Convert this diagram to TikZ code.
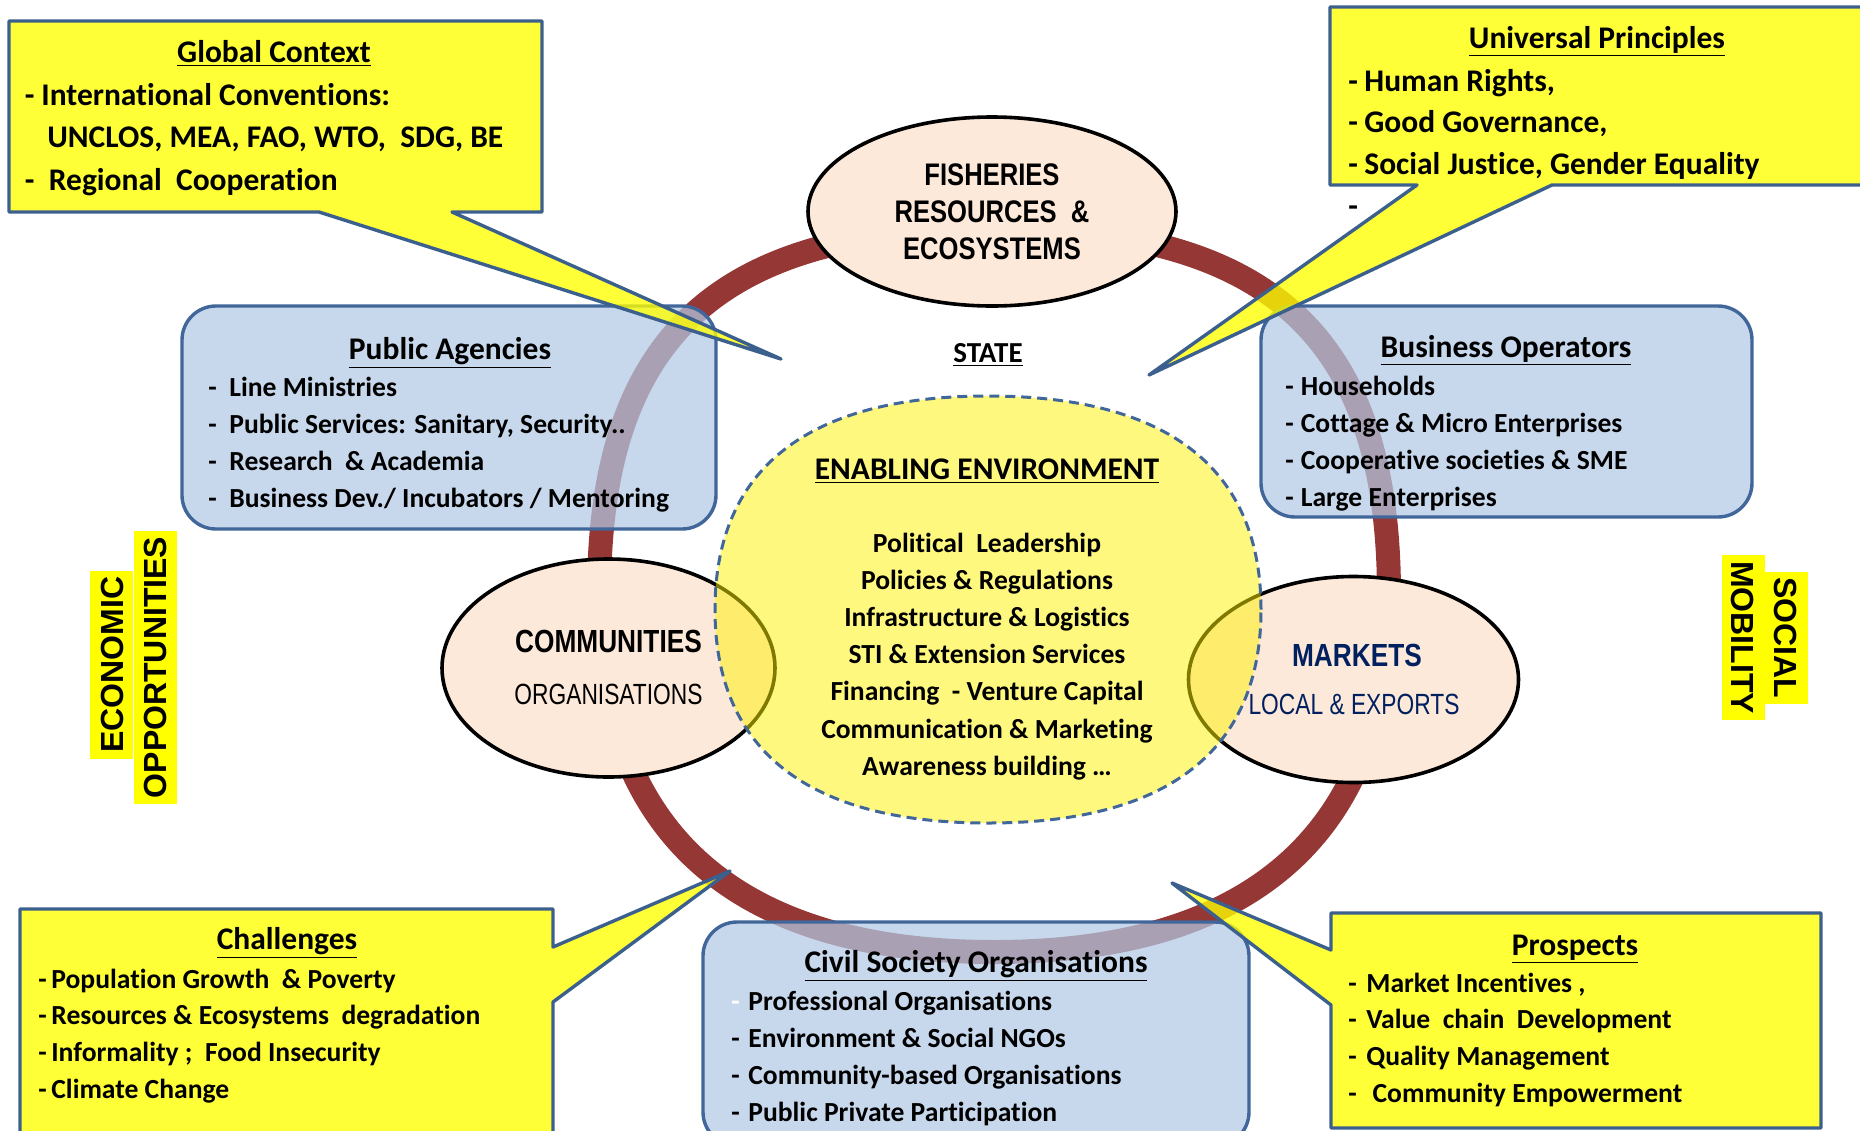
\documentclass[tikz,border=0pt]{standalone}
\usepackage{fontspec}
\setmainfont{Carlito}[Ligatures=NoCommon]
\newfontfamily\narrowbold[FakeStretch=0.82]{Liberation Sans}
\newfontfamily\narrowreg[FakeStretch=0.78]{Liberation Sans}
\newfontfamily\widesans{Liberation Sans}
\usetikzlibrary{shapes.geometric}

\definecolor{ringred}{RGB}{149,55,53}
\definecolor{calloutfill}{RGB}{255,255,0}
\definecolor{calloutline}{RGB}{60,96,142}
\definecolor{boxfill}{RGB}{178,201,229}
\definecolor{boxline}{RGB}{65,102,154}
\definecolor{peach}{RGB}{253,233,217}
\definecolor{navy}{RGB}{0,32,96}
\definecolor{hilite}{RGB}{255,255,0}

% dash followed by a fixed gap before the item text
\newcommand\dashto[1]{\makebox[#1][l]{-}}

\begin{document}
\begin{tikzpicture}[x=0.5pt, y=-0.5pt,
  callout/.style={fill=calloutfill, fill opacity=0.78, draw=calloutline,
    line width=1.7pt, line join=round},
  bluebox/.style={rectangle, rounded corners=17pt, draw=boxline, line width=1.7pt,
    fill=boxfill, fill opacity=0.72, inner sep=0pt},
  peachell/.style={ellipse, draw=black, line width=1.8pt, fill=peach, inner sep=0pt},
  enabling/.style={fill=yellow, fill opacity=0.5, draw=boxline, line width=1.5pt,
    dash pattern=on 5pt off 3pt},
  calltitle/.style={font=\bfseries\fontsize{15.75}{18}\selectfont, anchor=base, inner sep=0pt},
  bigitem/.style={font=\bfseries\fontsize{15.75}{18}\selectfont, anchor=base west, inner sep=0pt},
  listitem/.style={font=\bfseries\fontsize{13.8}{16}\selectfont, anchor=base west, inner sep=0pt},
  centreitem/.style={listitem, anchor=base},
  capsbold/.style={font=\narrowbold\bfseries\fontsize{15.6}{18}\selectfont, anchor=base, inner sep=0pt},
  capsreg/.style={font=\narrowreg\fontsize{14.6}{17}\selectfont, anchor=base, inner sep=0pt},
  sidelabel/.style={font=\widesans\bfseries\fontsize{16}{18}\selectfont, fill=hilite,
    inner xsep=3pt, inner ysep=0pt, text height=11.5pt, text depth=0pt, minimum height=21.5pt}
]
\useasboundingbox (0,0) rectangle (1860,1131);

% ---------- central ring ----------
\draw[ringred, line width=12pt]
  (1389,595) .. controls (1389,337) and (1270.5,228) .. (994,228)
  .. controls (717.5,228) and (599,337) .. (599,595)
  .. controls (599,830.6) and (733.3,952) .. (994,952)
  .. controls (1254.7,952) and (1389,830.6) .. (1389,595) -- cycle;

% ---------- stakeholder boxes ----------
\node[bluebox, minimum width=267pt, minimum height=111.5pt] (pubag) at (449,417.5) {};
\node[bluebox, minimum width=245.5pt, minimum height=105.5pt] (busop) at (1506.5,411.5) {};
\node[bluebox, minimum width=273pt, minimum height=112pt] (civil) at (976,1034) {};

% ---------- ellipses on the ring ----------
\node[peachell, minimum width=184pt, minimum height=94.5pt] (fish) at (992,211.5) {};
\node[peachell, minimum width=166.5pt, minimum height=109pt] (comm) at (608.5,668) {};
\node[peachell, minimum width=165pt, minimum height=103pt] (mkt) at (1353.5,679.5) {};

% ---------- enabling environment ----------
\draw[enabling]
  (1261,609.5) .. controls (1261,468.6) and (1168.2,396) .. (988,396)
  .. controls (807.8,396) and (715,468.6) .. (715,609.5)
  .. controls (715,750.4) and (807.8,823) .. (988,823)
  .. controls (1168.2,823) and (1261,750.4) .. (1261,609.5) -- cycle;

% ---------- callouts ----------
\coordinate (gc-tip) at (781,359);
\coordinate (up-tip) at (1149,375);
\coordinate (ch-tip) at (730,871);
\coordinate (pr-tip) at (1172,883);

\draw[callout] (9,21) -- (542,21) -- (542,212) -- (452,212) -- (gc-tip)
  -- (319,212) -- (9,212) -- cycle;
\draw[callout] (1330,7) -- (1880,7) -- (1880,185) -- (1552,185) -- (up-tip)
  -- (1417,185) -- (1330,185) -- cycle;
\draw[callout] (20,909) -- (553,909) -- (553,947) -- (ch-tip) -- (553,1002)
  -- (553,1145) -- (20,1145) -- cycle;
\draw[callout] (1331,913) -- (1821,913) -- (1821,1128) -- (1331,1128)
  -- (1331,1005) -- (pr-tip) -- (1331,950) -- cycle;

% ---------- Global Context ----------
\node[calltitle] (gc-title) at (274,62) {\underline{Global Context}};
\node[bigitem] (gc-1) at (24.5,105) {\dashto{8.25pt}International Conventions:};
\node[bigitem] (gc-2) at (47,147) {UNCLOS, MEA, FAO, WTO,\ \ SDG, BE};
\node[bigitem] (gc-3) at (24.5,190) {\dashto{12pt}Regional\ \ Cooperation};

% ---------- Universal Principles ----------
\node[calltitle] (up-title) at (1597,48) {\underline{Universal Principles}};
\foreach \txt [count=\i] in {{Human Rights,},{Good Governance,},{Social Justice, Gender Equality}}
  \node[bigitem] (up-\i) at (1348,{91+41.5*(\i-1)}) {\dashto{8pt}\txt};
\node[bigitem] (up-4) at (1348,216) {-};

% ---------- Public Agencies ----------
\node[calltitle] (pa-title) at (450,359) {\underline{Public Agencies}};
\foreach \txt [count=\i] in {{Line Ministries},{Public Services: Sanitary, Security.{}.},
    {Research\ \ \& Academia},{Business Dev./ Incubators / Mentoring}}
  \node[listitem] (pa-\i) at (208,{396+37.2*(\i-1)}) {\dashto{10.5pt}\txt};

% ---------- Business Operators ----------
\node[calltitle] (bo-title) at (1506,357) {\underline{Business Operators}};
\foreach \txt [count=\i] in {{Households},{Cottage \& Micro Enterprises},
    {Cooperative societies \& SME},{Large Enterprises}}
  \node[listitem] (bo-\i) at (1285,{395+37.2*(\i-1)}) {\dashto{7.75pt}\txt};

% ---------- Challenges ----------
\node[calltitle] (ch-title) at (287,949) {\underline{Challenges}};
\foreach \txt [count=\i] in {{Population Growth\ \ \& Poverty},{Resources \& Ecosystems\ \ degradation},
    {Informality ;\ \ Food Insecurity},{Climate Change}}
  \node[listitem] (ch-\i) at (38,{988+36.8*(\i-1)}) {\dashto{6.5pt}\txt};

% ---------- Civil Society Organisations ----------
\node[calltitle] (cs-title) at (976,972) {\underline{Civil Society Organisations}};
\node[listitem] (cs-1) at (731,1010) {\makebox[8.5pt][l]{\color{white}-}Professional Organisations};
\foreach \txt [count=\i from 2] in {{Environment \& Social NGOs},{Community-based Organisations},
    {Public Private Participation}}
  \node[listitem] (cs-\i) at (731,{1010+37.3*(\i-1)}) {\dashto{8.5pt}\txt};

% ---------- Prospects ----------
\node[calltitle] (pr-title) at (1575,955) {\underline{Prospects}};
\foreach \txt [count=\i] in {{Market Incentives ,},{Value\ \ chain\ \ Development},
    {Quality Management},{\ Community Empowerment}}
  \node[listitem] (pr-\i) at (1348,{992+36.8*(\i-1)}) {\dashto{9pt}\txt};

% ---------- centre texts ----------
\node[calltitle, font=\bfseries\fontsize{14.5}{17}\selectfont] (state) at (988,362) {\underline{STATE}};
\node[calltitle] (ee-title) at (987,479) {\underline{ENABLING ENVIRONMENT}};
\foreach \txt [count=\i] in {{Political\ \ Leadership},{Policies \& Regulations},
    {Infrastructure \& Logistics},{STI \& Extension Services},{Financing\ \ - Venture Capital},
    {Communication \& Marketing},{Awareness building \ldots}}
  \node[centreitem] (ee-\i) at (987,{552+37.2*(\i-1)}) {\txt};

\node[capsbold] (fish-1) at (992,185) {FISHERIES};
\node[capsbold] (fish-2) at (992,222) {RESOURCES\ \ \&};
\node[capsbold] (fish-3) at (992,259) {ECOSYSTEMS};

\node[capsbold, font=\narrowbold\bfseries\fontsize{16}{18}\selectfont] (comm-1) at (608.5,652) {COMMUNITIES};
\node[capsreg] (comm-2) at (608.5,704) {ORGANISATIONS};

\node[capsbold, text=navy, font=\narrowbold\bfseries\fontsize{16}{18}\selectfont] (mkt-1) at (1357,666) {MARKETS};
\node[capsreg, text=navy] (mkt-2) at (1354,714) {LOCAL \& EXPORTS};

% ---------- side labels ----------
\node[sidelabel, rotate=90] (econ) at (111.5,664.5) {ECONOMIC};
\node[sidelabel, rotate=90] (oppo) at (155,667.5) {OPPORTUNITIES};
\node[sidelabel, rotate=-90] (soci) at (1786,638) {SOCIAL};
\node[sidelabel, rotate=-90] (mobi) at (1743,637.5) {MOBILITY};

\end{tikzpicture}
\end{document}
